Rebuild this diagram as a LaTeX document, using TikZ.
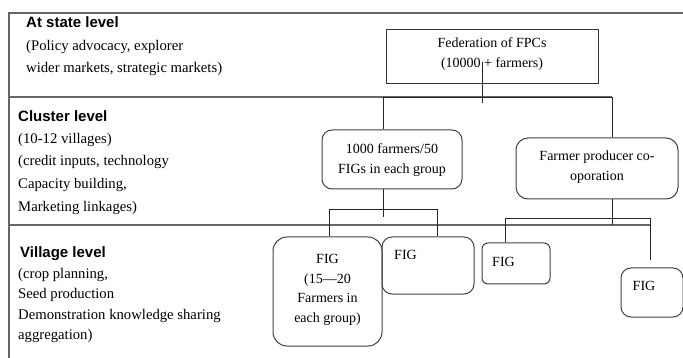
\documentclass[tikz,border=0pt]{standalone}
\usepackage{fontspec}
\setmainfont{Liberation Serif}
\newfontfamily\headfont{Liberation Sans}
\begin{document}
\begin{tikzpicture}[x=1pt, y=-1pt,
  frame/.style={draw=black!60, line width=1.3pt},
  conn/.style={draw=black!85, line width=0.8pt},
  sqbox/.style={draw=black!80, line width=0.9pt, inner sep=0pt},
  rbox/.style={draw=black!75, line width=1pt, rounded corners=10pt, inner sep=0pt},
  boxtext/.style={font=\fontsize{14}{19.5}\selectfont, align=center, inner sep=0pt},
  head/.style={font=\headfont\bfseries\fontsize{15}{18}\selectfont, anchor=base west, inner sep=0pt},
  body/.style={font=\fontsize{14.7}{22}\selectfont, align=left, anchor=north west, inner sep=0pt}]

    \useasboundingbox (0,0) rectangle (683,358);

    % frame and level lines
    \draw[frame] (9,358) -- (9,13) -- (683,13);
    \draw[frame] (9,97) -- (612,97);
    \draw[frame] (9,225) -- (650,225);

    % level texts (body: north = first baseline - 0.7 baselineskip)
    \node[head] (statehd) at (26,28) {At state level};
    \node[body] (statetx) at (26,34.6) {\strut(Policy advocacy, explorer\\wider markets, strategic markets)};
    \node[head] (clusthd) at (18,122) {Cluster level};
    \node[body, font=\fontsize{14.7}{22.7}\selectfont] (clusttx) at (18,127.1) {\strut(10-12 villages)\\(credit inputs, technology\\Capacity building,\\Marketing linkages)};
    \node[head] (villhd) at (20,258) {Village level};
    \node[body, font=\fontsize{14.7}{20.5}\selectfont] (villtx) at (18,263.65) {\strut(crop planning,\\Seed production\\Demonstration knowledge sharing\\aggregation)};

    % boxes
    \node[sqbox, minimum width=212pt, minimum height=54pt] (fed) at (492,56) {};
    \node[boxtext] (fedtx) at (492,54) {Federation of FPCs\\(10000 + farmers)};

    \node[rbox, minimum width=140pt, minimum height=59pt] (clus) at (392,159.5) {};
    \node[boxtext] (clustx) at (392,160) {1000 farmers/50\\FIGs in each group};

    \node[rbox, rounded corners=12pt, minimum width=162pt, minimum height=61pt] (fpc) at (597,168.5) {};
    \node[boxtext] (fpctx) at (597,167) {Farmer producer co-\\oporation};

    \node[rbox, rounded corners=14pt, minimum width=109pt, minimum height=109pt] (fig1) at (327.5,291.5) {};
    \node[boxtext] (fig1tx) at (327.5,290) {FIG\\(15—20\\Farmers in\\each group)};

    \node[rbox, minimum width=92pt, minimum height=57pt] (fig2) at (428,265.5) {};
    \node[boxtext] (fig2tx) at (405.5,255) {FIG};

    \node[rbox, rounded corners=6pt, minimum width=68pt, minimum height=41pt] (fig3) at (516,263.5) {};
    \node[boxtext] (fig3tx) at (503.5,261.5) {FIG};

    \node[rbox, minimum width=62pt, minimum height=49pt] (fig4) at (652,292.5) {};
    \node[boxtext] (fig4tx) at (644,286) {FIG};

    % connectors
    \coordinate (fedtop) at (482,62);
    \coordinate (fedend) at (482,103);
    \draw[conn] (fedtop) -- (fedend);

    \coordinate (cl) at (383,97);
    \coordinate (fr) at (612,97);
    \draw[conn] (clus.north -| cl) -- (cl) -- (fr) -- (fpc.north -| fr);

    \coordinate (cstub) at (383,217);
    \coordinate (ba) at (329,209);
    \coordinate (bb) at (437,209);
    \draw[conn] (clus.south -| cstub) -- (cstub);
    \draw[conn] (fig1.north -| ba) -- (ba) -- (bb) -- (fig2.north -| bb);

    \coordinate (fstub) at (612,225);
    \coordinate (fa) at (505,218);
    \coordinate (fb) at (650,218);
    \coordinate (fend) at (650,260);
    \draw[conn] (fpc.south -| fstub) -- (fstub);
    \draw[conn] (fig3.north -| fa) -- (fa) -- (fb) -- (fend);

\end{tikzpicture}
\end{document}
